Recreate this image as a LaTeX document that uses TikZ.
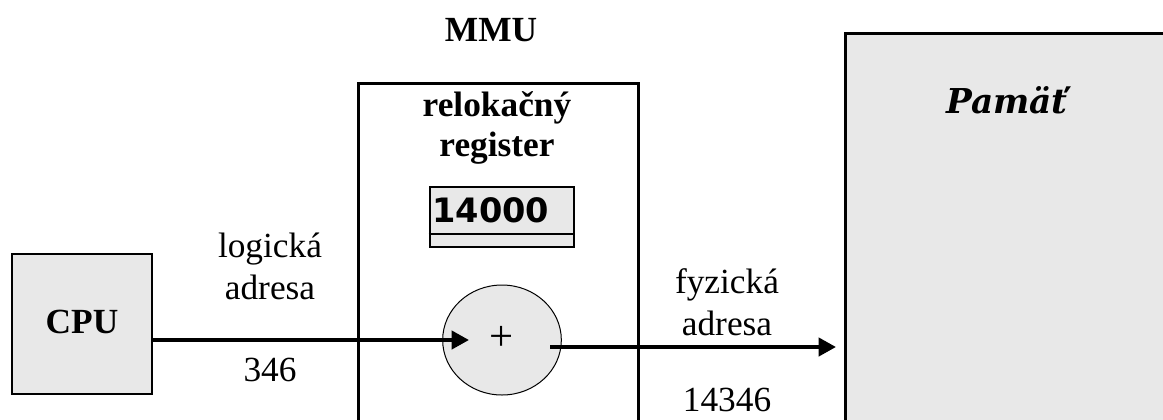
\documentclass[tikz,border=0pt]{standalone}
\usepackage{fontspec}
\setmainfont{Liberation Serif}
\newfontfamily\regfont{DejaVu Sans}
\newfontfamily\memfont{DejaVu Serif}
\usetikzlibrary{arrows.meta,shapes.geometric,calc}
\definecolor{boxgray}{RGB}{232,232,232}
\begin{document}
\begin{tikzpicture}[x=0.75pt,y=-0.75pt,
  box/.style={draw=black,line width=2pt,inner sep=0pt},
  lbl/.style={font=\fontsize{26.5}{31.5}\selectfont,align=center,inner sep=0pt},
  blbl/.style={font=\fontsize{26.5}{30}\selectfont\bfseries,align=center,inner sep=0pt},
  arr/.style={line width=3pt,-{Triangle[length=13pt,width=13.5pt]}}]
\useasboundingbox (0,0) rectangle (1163,419);
\clip (0,0) rectangle (1163,419);
% boxes
\node[box,fill=boxgray,minimum width=105pt,minimum height=105pt] (cpu) at (82,324) {};
\node[blbl] (cputxt) at (82,322) {CPU};
\node[box,anchor=north west,minimum width=210pt,minimum height=290pt] (mmu) at (357,82) {};
\node[blbl] (mmutxt) at (491,30) {MMU};
\node[blbl] (reltxt) at (497,128) {relokačný\\register};
\node[box,fill=boxgray,minimum width=108pt,minimum height=45pt] (reg) at (502,217) {};
\draw[line width=1pt] (reg.west |- 0,234) -- (reg.east |- 0,234);
\node[anchor=west,inner sep=0pt,font=\fontsize{25.2}{30}\selectfont\regfont\bfseries] (regval) at (432,210) {14000};
\node[draw=black,line width=0.75pt,fill=boxgray,ellipse,minimum width=89pt,minimum height=82.5pt,inner sep=0pt] (add) at (502,340) {};
\node[lbl,font=\fontsize{32}{32}\selectfont] (plus) at (502,338) {+};
\node[box,fill=boxgray,anchor=north west,minimum width=260pt,minimum height=320pt] (mem) at (844,32) {};
\node[inner sep=0pt,font=\fontsize{25.7}{30}\selectfont\memfont\bfseries\itshape] (memtxt) at (1007,100) {Pamäť};
% labels
\node[lbl] (logtxt) at (270,266) {logická\\adresa};
\node[lbl] (lognum) at (270,370) {346};
\node[lbl] (fyztxt) at (727,302) {fyzická\\adresa};
\node[lbl] (fyznum) at (727,400) {14346};
% connectors
\coordinate (cpuout) at (152,340);
\coordinate (addin) at (469,340);
\coordinate (addout) at (550,347);
\coordinate (memin) at (836,347);
\draw[arr] (cpuout) -- (addin);
\draw[arr] (addout) -- (memin);
\end{tikzpicture}
\end{document}
